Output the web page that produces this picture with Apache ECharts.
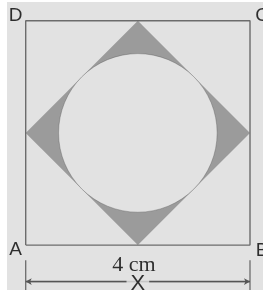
<!DOCTYPE html>
<html>
<head>
<meta charset="utf-8">
<script src="https://cdn.jsdelivr.net/npm/echarts@6/dist/echarts.min.js"></script>
<style>
html,body{margin:0;padding:0;background:#ffffff;}
#chart{position:absolute;left:7px;top:2px;width:256px;height:288px;}
</style>
</head>
<body>
<div id="chart"></div>
<script>
// Geometry in cm
const side = 4;
const squarePts = [[0,0],[4,0],[4,4],[0,4],[0,0]];
const diamondPts = [[2,0],[4,2],[2,4],[0,2]];
const circleCenter = [2,2];
const circleRadius = Math.SQRT2; // inscribed in diamond
const cornerLabels = ['A','B','C','D'];
const cornerPts = [[0,0],[4,0],[4,4],[0,4]];
const sideLabel = '4 cm';
const dimLabel = 'X';

const BG = '#e2e2e2';
const chart = echarts.init(document.getElementById('chart'));

const offsets = {A:[-10,5], B:[12,6], C:[12,-5], D:[-10,-5]};

chart.setOption({
  backgroundColor: BG,
  animation: false,
  grid: {left: 18.7, right: 13, top: 18.7, bottom: 0},
  xAxis: {type:'value', min:0, max:side, show:false},
  yAxis: {type:'value', min:-0.8, max:side, show:false},
  series: [
    {
      type:'custom',
      clip:false,
      z:2,
      data:[0],
      renderItem: function(params, api){
        const pts = diamondPts.map(p => api.coord(p));
        return {type:'polygon', shape:{points:pts}, style:{fill:'#9b9b9b', stroke:null}};
      }
    },
    {
      type:'custom',
      clip:false,
      z:3,
      data:[0],
      renderItem: function(params, api){
        const c = api.coord(circleCenter);
        const r = api.size([circleRadius, 0])[0];
        return {type:'circle', shape:{cx:c[0], cy:c[1], r:r}, style:{fill:BG, stroke:'rgba(90,90,90,0.55)', lineWidth:0.7}};
      }
    },
    {
      type:'line',
      z:4,
      data: squarePts,
      symbol:'none',
      clip:false,
      lineStyle:{color:'#6c6c6c', width:1.4}
    },
    {
      type:'scatter',
      z:5,
      symbolSize:0,
      clip:false,
      data: cornerPts.map((p,i)=>({value:p, name:cornerLabels[i]})),
      label:{show:true, formatter:'{b}', fontFamily:'Liberation Sans', fontSize:19, color:'#000',
        position:'inside'},
      labelLayout: function(params){
        const o = offsets[cornerLabels[params.dataIndex]];
        return {dx:o[0], dy:o[1]};
      }
    },
    // dimension ticks
    {type:'line', z:4, data:[[0,-0.27],[0,-0.8]], symbol:'none', clip:false, lineStyle:{color:'#6c6c6c', width:1.3}},
    {type:'line', z:4, data:[[4,-0.27],[4,-0.8]], symbol:'none', clip:false, lineStyle:{color:'#6c6c6c', width:1.3}},
    // dimension line with arrows
    {
      type:'line', z:4, data:[[0,-0.65],[4,-0.65]], symbol:'none', clip:false,
      lineStyle:{color:'#7a7a7a', width:1.3},
      markLine:{
        silent:true, symbol:['arrow','arrow'], symbolSize:[5,6],
        lineStyle:{color:'#555', width:1.3, type:'solid'},
        label:{show:false},
        data:[[{coord:[0,-0.65]},{coord:[4,-0.65]}]]
      }
    },
    {
      type:'scatter', z:6, symbolSize:0, clip:false,
      data:[{value:[2,-0.65], name:dimLabel}],
      label:{show:true, position:'inside', formatter:'{b}', fontFamily:'Liberation Sans', fontSize:22, color:'#000',
        backgroundColor:BG, padding:[0,4,0,4], offset:[0,2]}
    },
    {
      type:'scatter', z:6, symbolSize:0, clip:false,
      data:[{value:[2,-0.36], name:sideLabel}],
      label:{show:true, position:'inside', formatter:'{b}', fontFamily:'Liberation Serif', fontSize:22, color:'#000',
        offset:[-4,0]}
    }
  ]
});
</script>
</body>
</html>
